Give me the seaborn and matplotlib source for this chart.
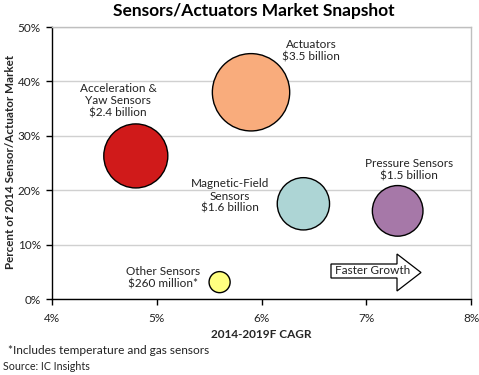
import matplotlib
matplotlib.use("Agg")
import matplotlib.pyplot as plt
import seaborn as sns
import pandas as pd
from matplotlib.patches import Polygon
from matplotlib.ticker import FuncFormatter

# Data
names = ["Acceleration & Yaw Sensors", "Actuators", "Magnetic-Field Sensors", "Pressure Sensors", "Other Sensors"]
cagr = [4.8, 5.9, 6.4, 7.3, 5.6]          # % 2014-2019F CAGR
share = [26.3, 38.0, 17.5, 16.2, 3.1]     # % of 2014 market
value_bn = [2.4, 3.5, 1.6, 1.5, 0.26]     # market size, $ billion
labels = ["Acceleration &\nYaw Sensors\n$2.4 billion", "Actuators\n$3.5 billion",
          "Magnetic-Field\nSensors\n$1.6 billion", "Pressure Sensors\n$1.5 billion",
          "Other Sensors\n$260 million*"]
colors = ["#D01A1A", "#F9AC7C", "#ADD5D5", "#A678A8", "#FFFF80"]
x_ticks = [4, 5, 6, 7, 8]
y_ticks = [0, 10, 20, 30, 40, 50]

df = pd.DataFrame({"name": names, "cagr": cagr, "share": share, "value": value_bn})

sns.set_theme(style="white")
plt.rcParams['font.family'] = ['Lato', 'DejaVu Sans']

fig = plt.figure(figsize=(4.79, 3.75), dpi=100)
ax = fig.add_axes([52/479, 76/375, 419/479, 272/375])

sns.scatterplot(data=df, x="cagr", y="share", hue="name", size="value",
                palette=dict(zip(names, colors)), sizes=(0, 3100), size_norm=(0, 3.5),
                edgecolor="black", linewidth=1, alpha=1, legend=False, ax=ax, zorder=3)

ax.set_xlim(4, 8)
ax.set_ylim(0, 50)
ax.set_xticks(x_ticks)
ax.set_yticks(y_ticks)
ax.xaxis.set_major_formatter(FuncFormatter(lambda v, p: f"{v:.0f}%"))
ax.yaxis.set_major_formatter(FuncFormatter(lambda v, p: f"{v:.0f}%"))
ax.tick_params(axis="both", which="major", direction="out", length=4, width=1,
               colors="black", labelsize=8.5, labelcolor="#222222", bottom=True, left=True)
ax.tick_params(axis="x", pad=6)
ax.tick_params(axis="y", pad=4)
ax.grid(axis="y", color="#D0D0D0", linewidth=1)
ax.grid(axis="x", visible=False)
ax.set_axisbelow(True)
for s in ["top", "right"]:
    ax.spines[s].set_color("#BFBFBF")
    ax.spines[s].set_linewidth(1)
for s in ["left", "bottom"]:
    ax.spines[s].set_color("black")
    ax.spines[s].set_linewidth(1)

ax.set_xlabel("2014-2019F CAGR", fontsize=8.5, fontweight="bold", labelpad=4)
ax.set_ylabel("Percent of 2014 Sensor/Actuator Market", fontsize=8.4, fontweight="bold")
ax.yaxis.set_label_coords((16 - 52) / 419, (299 - 162) / 272)

# bubble labels (positions in axes fraction)
lab_pos = [((118-52)/419, (299-101)/272), ((311-52)/419, (299-51)/272),
           ((230-52)/419, (299-196)/272), ((409-52)/419, (299-170)/272),
           ((163-52)/419, (299-278)/272)]
for txt, (px, py) in zip(labels, lab_pos):
    ax.text(px, py, txt, transform=ax.transAxes, ha="center", va="center",
            fontsize=8.5, color="#222222", linespacing=1.15, zorder=4)

# Faster Growth arrow
def fx(x):
    return (x - 52) / 419
def fy(y):
    return (299 - y) / 272
pts = [(fx(331), fy(264)), (fx(397), fy(264)), (fx(397), fy(254)), (fx(421), fy(272.5)),
       (fx(397), fy(291)), (fx(397), fy(278)), (fx(331), fy(278))]
ax.add_patch(Polygon(pts, closed=True, transform=ax.transAxes, facecolor="white",
                     edgecolor="black", linewidth=0.9, zorder=4))
ax.text(fx(373), fy(271), "Faster Growth", transform=ax.transAxes, ha="center", va="center",
        fontsize=8.5, color="#222222", zorder=5)

fig.text(254/479, 1 - 11/375, "Sensors/Actuators Market Snapshot", ha="center", va="center",
         fontsize=12.5, fontweight="bold", color="black")
fig.text(8/479, 1 - 350/375, "*Includes temperature and gas sensors", ha="left", va="center",
         fontsize=8.6, color="#222222")
fig.text(3/479, 1 - 366/375, "Source: IC Insights", ha="left", va="center",
         fontsize=7.7, color="#222222")

fig.savefig("out.png", dpi=100)
